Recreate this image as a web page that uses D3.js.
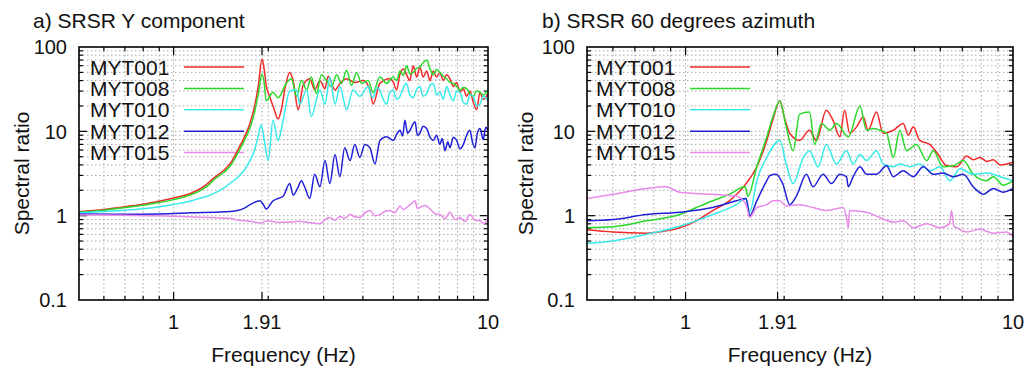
<!DOCTYPE html>
<html lang="en">
<head>
  <meta charset="utf-8"/>
  <script src="https://d3js.org/d3.v7.min.js"></script>
  <title>SRSR spectral ratios</title>
  <style>
    body { margin: 0; background: #fff; }
    text { font-family: "Liberation Sans", Arial, sans-serif; fill: #111; }
    .grid { stroke: #a8a8a8; stroke-width: 1; stroke-dasharray: 1.5,2.5; fill: none; }
    .frame { stroke: #000; stroke-width: 1.6; fill: none; }
    .tick { stroke: #000; stroke-width: 1.2; }
    .curve { fill: none; stroke-width: 1.5; stroke-linejoin: round; }
  </style>
</head>
<body>
<svg id="chart"></svg>
<script>
const width = 1035;
const height = 369;

const stations = ["MYT001", "MYT008", "MYT010", "MYT012", "MYT015"];
const colors = ["#f02a2a", "#2ad82a", "#38eaea", "#2020d8", "#e88ae8"];
const xMajor = [1, 1.91, 10];
const xTickLabels = ["1", "1.91", "10"];
const yMajor = [0.1, 1, 10, 100];
const yTickLabels = ["0.1", "1", "10", "100"];

// a) SRSR Y component  -- [frequency Hz, spectral ratio]
const yMYT001 = [[0.5,1.11],[0.6,1.18],[0.7,1.28],[0.8,1.37],[0.89,1.47],[1.0,1.62],[1.14,1.86],[1.22,2.1],[1.29,2.45],[1.35,2.85],[1.45,3.5],[1.53,4.4],[1.6,6.0],[1.68,8.6],[1.75,12.5],[1.81,20],[1.86,35],[1.91,72],[1.94,55],[1.97,35],[2.02,26],[2.08,19],[2.15,14],[2.2,18],[2.27,35],[2.34,50],[2.4,40],[2.49,18],[2.55,28],[2.58,35],[2.71,42],[2.81,31],[2.92,40],[3.03,32],[3.1,45],[3.26,31],[3.38,37],[3.55,42],[3.77,38],[4.01,40],[4.21,31],[4.31,21],[4.53,37],[4.87,42],[5.0,38],[5.12,31],[5.25,48],[5.38,55],[5.51,47],[5.64,40],[5.78,60],[5.93,44],[6.07,58],[6.22,44],[6.38,52],[6.54,40],[6.7,52],[6.86,44],[7.03,50],[7.21,40],[7.39,47],[7.57,42],[7.76,34],[7.95,38],[8.14,29],[8.35,32],[8.55,26],[8.76,30],[8.98,22],[9.2,18],[9.43,29],[9.66,24],[10,28]];
const yMYT008 = [[0.5,1.1],[0.6,1.16],[0.7,1.25],[0.8,1.33],[0.89,1.42],[1.0,1.55],[1.14,1.78],[1.22,2.0],[1.29,2.3],[1.35,2.7],[1.45,3.3],[1.53,4.1],[1.6,5.5],[1.68,7.8],[1.75,11],[1.81,17],[1.86,28],[1.91,48],[1.94,38],[1.97,23],[2.07,29],[2.15,25],[2.28,37],[2.37,42],[2.46,26],[2.55,40],[2.65,31],[2.74,44],[2.85,28],[2.95,47],[3.06,40],[3.18,34],[3.3,47],[3.42,37],[3.55,53],[3.68,35],[3.82,50],[3.96,37],[4.16,40],[4.31,29],[4.53,44],[4.76,37],[4.99,44],[5.12,40],[5.25,52],[5.38,46],[5.51,60],[5.64,48],[5.78,50],[5.93,56],[6.07,58],[6.22,65],[6.38,70],[6.54,55],[6.7,47],[6.86,54],[7.03,50],[7.21,45],[7.39,42],[7.57,38],[7.76,37],[7.95,34],[8.14,31],[8.35,33],[8.55,32],[8.76,28],[8.98,26],[9.2,30],[9.43,29],[9.66,27],[10,31]];
const yMYT010 = [[0.5,1.08],[0.6,1.12],[0.7,1.16],[0.8,1.21],[0.89,1.27],[1.0,1.36],[1.14,1.5],[1.22,1.62],[1.29,1.72],[1.35,1.85],[1.45,2.15],[1.53,2.5],[1.6,2.85],[1.68,3.5],[1.75,4.5],[1.81,6],[1.86,9],[1.9,12],[1.94,8],[2.0,4.5],[2.07,13.5],[2.15,7.8],[2.23,13.5],[2.34,30],[2.46,31],[2.52,21],[2.65,31],[2.74,15],[2.92,31],[3.03,21],[3.14,44],[3.26,21],[3.38,34],[3.55,18],[3.72,31],[3.91,26],[4.16,34],[4.24,27],[4.31,25],[4.42,33],[4.53,31],[4.64,24],[4.76,21],[4.87,29],[4.99,31],[5.12,24],[5.25,26],[5.38,33],[5.51,37],[5.64,27],[5.78,25],[5.92,31],[6.07,34],[6.22,26],[6.38,28],[6.54,35],[6.7,37],[6.86,27],[7.03,29],[7.21,24],[7.39,34],[7.57,27],[7.76,23],[7.95,30],[8.14,29],[8.35,22],[8.55,21],[8.76,27],[8.98,26],[9.2,20],[9.43,21],[9.66,26],[10,23]];
const yMYT012 = [[0.5,1.05],[0.7,1.04],[0.9,1.05],[1.14,1.08],[1.45,1.11],[1.6,1.15],[1.68,1.23],[1.75,1.35],[1.88,1.5],[1.93,1.35],[1.97,1.2],[2.07,1.5],[2.15,1.6],[2.23,1.7],[2.34,2.4],[2.4,1.75],[2.49,2.2],[2.55,2.6],[2.61,2.2],[2.71,1.6],[2.81,3.1],[2.92,2.2],[3.03,4.5],[3.14,2.4],[3.26,5.3],[3.38,2.9],[3.5,6.4],[3.64,4.5],[3.77,7.0],[3.91,4.9],[4.06,7.0],[4.21,6.4],[4.37,4.1],[4.53,7.8],[4.76,8.6],[5.0,7.8],[5.12,9.2],[5.25,10.3],[5.35,8.8],[5.44,13.5],[5.55,9.5],[5.65,10.3],[5.76,12],[5.86,13],[5.96,9.0],[6.07,9.5],[6.22,11.5],[6.38,10.8],[6.54,8.5],[6.7,7.8],[6.86,9.0],[7.03,7.0],[7.15,8.2],[7.3,5.9],[7.45,7.5],[7.57,6.4],[7.76,8.5],[7.95,7.8],[8.14,6.2],[8.35,7.0],[8.55,9.0],[8.76,10.3],[8.92,7.5],[9.09,6.4],[9.25,9.5],[9.43,10.8],[9.66,8.0],[9.83,11.2],[10,10.3]];
const yMYT015 = [[0.5,1.02],[0.7,1.01],[0.9,1.0],[1.1,0.97],[1.3,0.95],[1.5,0.93],[1.62,0.88],[1.75,0.86],[1.88,0.82],[2.0,0.87],[2.15,0.83],[2.34,0.84],[2.5,0.86],[2.7,0.83],[2.92,0.8],[3.03,0.9],[3.14,0.95],[3.26,0.88],[3.38,0.98],[3.5,0.93],[3.64,1.03],[3.77,0.97],[3.91,0.95],[4.06,1.08],[4.21,1.15],[4.37,1.0],[4.53,1.03],[4.7,1.12],[4.87,1.15],[5.05,1.08],[5.25,1.3],[5.38,1.18],[5.51,1.25],[5.65,1.35],[5.86,1.5],[5.96,1.22],[6.07,1.25],[6.3,1.32],[6.54,1.2],[6.8,1.05],[7.03,1.03],[7.3,0.92],[7.57,1.1],[7.85,0.9],[8.14,0.95],[8.45,0.85],[8.76,1.03],[9.1,0.88],[9.43,0.87],[9.7,0.8],[10,0.95]];

// b) SRSR 60 degrees azimuth
const azMYT001 = [[0.5,0.68],[0.6,0.64],[0.76,0.62],[0.85,0.65],[0.96,0.72],[1.08,0.87],[1.21,1.15],[1.36,1.5],[1.53,2.4],[1.65,3.8],[1.77,7.8],[1.85,14],[1.94,23],[2.0,15],[2.08,9.5],[2.23,7.8],[2.39,10.3],[2.51,7.8],[2.69,17.8],[2.82,13.5],[2.96,8.6],[3.06,17.8],[3.17,9.5],[3.33,11.3],[3.49,14.8],[3.61,10.3],[3.83,17],[4.01,9.5],[4.31,10.3],[4.62,12.4],[4.79,9],[4.96,11.3],[5.19,7.8],[5.57,7.0],[5.91,5.3],[6.27,3.9],[6.73,3.8],[7.22,5.1],[7.56,4.6],[7.93,4.9],[8.31,4.4],[8.71,4.6],[9.13,4.0],[9.56,4.1],[10,4.3]];
const azMYT008 = [[0.5,0.72],[0.6,0.74],[0.76,0.87],[0.96,1.03],[1.08,1.25],[1.21,1.5],[1.36,1.79],[1.52,2.2],[1.55,1.7],[1.65,3.8],[1.77,8.6],[1.85,15],[1.94,23],[2.03,11.3],[2.13,5.9],[2.23,16],[2.39,17],[2.48,7.0],[2.6,12.4],[2.76,10.3],[2.89,12.4],[3.14,8.6],[3.41,20],[3.57,10.3],[3.74,10.8],[3.92,10.3],[4.11,9.5],[4.31,4.9],[4.51,10.3],[4.73,5.9],[5.07,7.0],[5.45,4.5],[5.71,5.9],[6.12,3.8],[6.57,3.9],[7.05,4.5],[7.56,3.1],[8.31,2.6],[8.71,2.9],[9.34,2.3],[10,2.6]];
const azMYT010 = [[0.5,0.47],[0.6,0.5],[0.76,0.6],[0.96,0.75],[1.21,1.03],[1.43,1.35],[1.53,1.6],[1.57,1.1],[1.65,2.6],[1.77,4.9],[1.94,7.8],[2.03,4.1],[2.13,2.4],[2.29,4.9],[2.39,5.9],[2.54,3.8],[2.69,7.0],[2.89,4.1],[3.1,5.9],[3.25,4.1],[3.41,5.3],[3.57,4.5],[3.83,5.9],[4.01,4.1],[4.31,3.8],[4.51,4.1],[4.84,3.8],[5.19,4.1],[5.57,3.4],[5.98,3.8],[6.42,2.6],[6.89,3.6],[7.56,3.1],[8.31,3.2],[9.13,2.9],[10,2.6]];
const azMYT012 = [[0.5,0.87],[0.6,0.9],[0.76,1.03],[0.96,1.1],[1.21,1.25],[1.43,1.5],[1.53,1.6],[1.57,1.0],[1.65,1.5],[1.77,2.6],[1.81,3.0],[1.89,3.1],[1.98,2.4],[2.08,1.35],[2.18,1.7],[2.34,3.1],[2.45,2.2],[2.63,3.1],[2.79,2.4],[2.96,3.1],[3.1,2.9],[3.14,2.2],[3.25,2.9],[3.41,3.8],[3.57,3.1],[3.83,3.1],[4.11,3.9],[4.31,2.9],[4.62,3.4],[4.96,2.9],[5.32,3.8],[5.71,3.1],[6.12,3.2],[6.57,2.9],[7.05,3.1],[7.56,2.2],[8.12,1.8],[8.71,2.1],[9.34,1.9],[10,2.1]];
const azMYT015 = [[0.5,1.6],[0.6,1.79],[0.76,2.1],[0.87,2.2],[0.96,1.9],[1.21,1.79],[1.43,1.7],[1.53,1.35],[1.57,0.95],[1.65,1.25],[1.77,1.35],[1.85,1.5],[1.94,1.5],[2.03,1.3],[2.23,1.35],[2.45,1.25],[2.69,1.15],[3.03,1.25],[3.1,0.95],[3.14,0.72],[3.17,1.15],[3.57,1.1],[3.92,0.95],[4.31,0.84],[4.62,0.87],[4.96,0.72],[5.45,0.8],[5.98,0.72],[6.4,0.8],[6.49,1.15],[6.6,0.75],[6.73,0.72],[7.22,0.64],[7.93,0.69],[8.71,0.62],[9.56,0.64],[10,0.56]];

const panels = [
  { title: "a) SRSR Y component", titleX: 33, left: 79, right: 488, ylabelX: 22,
    legendX: 90, series: [yMYT001, yMYT008, yMYT010, yMYT012, yMYT015] },
  { title: "b) SRSR 60 degrees azimuth", titleX: 542, left: 587, right: 1013, ylabelX: 526,
    legendX: 596, series: [azMYT001, azMYT008, azMYT010, azMYT012, azMYT015] }
];

const plotTop = 47, plotBottom = 300;

const svg = d3.select("#chart")
  .attr("width", width)
  .attr("height", height);

panels.forEach((p, pi) => drawPanel(p, pi));

function drawPanel(p, pi) {
  const x = d3.scaleLog().domain([0.5, 10]).range([p.left, p.right]);
  const y = d3.scaleLog().domain([0.1, 100]).range([plotBottom, plotTop]);
  const g = svg.append("g");

  // minor grid from scale ticks, plus the 1.91 Hz tic
  const xGrid = x.ticks().filter(d => d > 0.5 && d < 10).concat([1.91]);
  const yGrid = y.ticks().filter(d => d > 0.1 && d < 100);

  g.selectAll(".gx").data(xGrid).enter().append("line")
    .attr("class", "grid")
    .attr("x1", d => x(d)).attr("x2", d => x(d))
    .attr("y1", plotTop).attr("y2", plotBottom);
  g.selectAll(".gy").data(yGrid).enter().append("line")
    .attr("class", "grid")
    .attr("x1", p.left).attr("x2", p.right)
    .attr("y1", d => y(d)).attr("y2", d => y(d));

  // tics, mirrored on all four sides
  const isMajor = d => xMajor.includes(d) || yMajor.includes(d);
  const tickLen = d => isMajor(d) ? 8 : 4;
  g.selectAll(".tb").data(xGrid).enter().append("line")
    .attr("class", "tick")
    .attr("x1", d => x(d)).attr("x2", d => x(d))
    .attr("y1", plotBottom).attr("y2", d => plotBottom - tickLen(d));
  g.selectAll(".tt").data(xGrid).enter().append("line")
    .attr("class", "tick")
    .attr("x1", d => x(d)).attr("x2", d => x(d))
    .attr("y1", plotTop).attr("y2", d => plotTop + tickLen(d));
  g.selectAll(".tl").data(yGrid).enter().append("line")
    .attr("class", "tick")
    .attr("x1", p.left).attr("x2", d => p.left + tickLen(d))
    .attr("y1", d => y(d)).attr("y2", d => y(d));
  g.selectAll(".tr").data(yGrid).enter().append("line")
    .attr("class", "tick")
    .attr("x1", p.right).attr("x2", d => p.right - tickLen(d))
    .attr("y1", d => y(d)).attr("y2", d => y(d));

  const clipId = "clip" + pi;
  svg.append("clipPath").attr("id", clipId)
    .append("rect")
    .attr("x", p.left).attr("y", plotTop)
    .attr("width", p.right - p.left).attr("height", plotBottom - plotTop);

  const line = d3.line()
    .curve(d3.curveMonotoneX)
    .x(d => x(d[0]))
    .y(d => y(d[1]));

  // legend
  const leg = g.append("g");
  stations.forEach((s, i) => {
    const ly = 67 + i * 21.4;
    leg.append("text")
      .attr("x", p.legendX).attr("y", ly)
      .attr("dy", "0.36em")
      .style("font-size", "21px")
      .text(s);
    leg.append("line")
      .attr("x1", p.legendX + 94).attr("x2", p.legendX + 154)
      .attr("y1", ly).attr("y2", ly)
      .style("stroke", colors[i]).style("stroke-width", 1.5);
  });

  // curves
  g.append("g").attr("clip-path", "url(#" + clipId + ")")
    .selectAll("path")
    .data(p.series)
    .enter()
    .append("path")
    .attr("class", "curve")
    .attr("d", line)
    .style("stroke", (d, i) => colors[i]);

  g.append("rect")
    .attr("class", "frame")
    .attr("x", p.left).attr("y", plotTop)
    .attr("width", p.right - p.left).attr("height", plotBottom - plotTop);

  // tick labels
  g.selectAll(".yl").data(yMajor).enter().append("text")
    .attr("x", p.left - 12)
    .attr("y", d => y(d))
    .attr("dy", "0.36em")
    .attr("text-anchor", "end")
    .style("font-size", "20px")
    .text((d, i) => yTickLabels[i]);
  g.selectAll(".xl").data(xMajor).enter().append("text")
    .attr("x", d => x(d))
    .attr("y", 329)
    .attr("text-anchor", "middle")
    .style("font-size", "20px")
    .text((d, i) => xTickLabels[i]);

  // titles
  g.append("text")
    .attr("x", p.titleX).attr("y", 28)
    .style("font-size", "21px")
    .text(p.title);
  g.append("text")
    .attr("x", (p.left + p.right) / 2).attr("y", 362)
    .attr("text-anchor", "middle")
    .style("font-size", "21px")
    .text("Frequency (Hz)");
  g.append("text")
    .attr("transform", "translate(" + (p.ylabelX + 7) + "," + ((plotTop + plotBottom) / 2) + ") rotate(-90)")
    .attr("text-anchor", "middle")
    .style("font-size", "21px")
    .text("Spectral ratio");
}
</script>
</body>
</html>
